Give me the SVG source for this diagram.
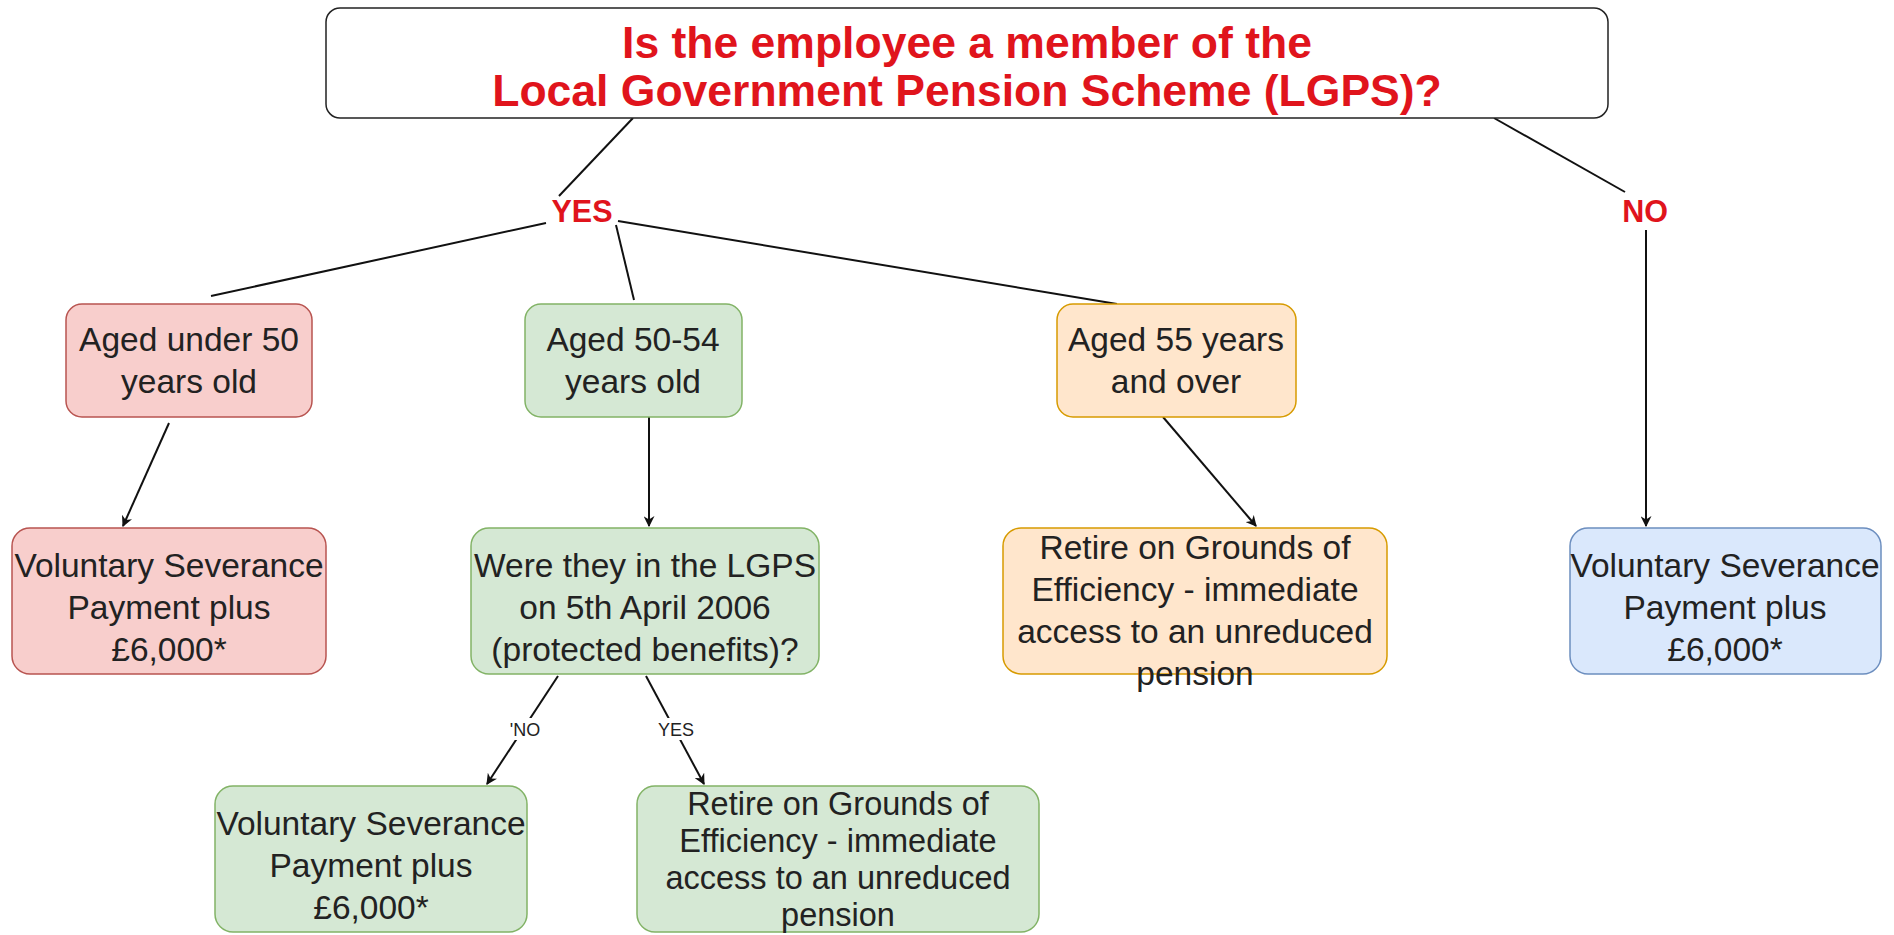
<svg xmlns="http://www.w3.org/2000/svg" width="1894" height="935" viewBox="0 0 1894 935">
<defs>
<style>
.t{font-family:"Liberation Sans",Arial,sans-serif;font-size:33.5px;fill:#222;text-anchor:middle}
.t2{font-family:"Liberation Sans",Arial,sans-serif;font-size:32.5px;fill:#222;text-anchor:middle}
.title{font-family:"Liberation Sans",Arial,sans-serif;font-size:44.5px;font-weight:bold;fill:#e0141c;text-anchor:middle}
.big{font-family:"Liberation Sans",Arial,sans-serif;font-size:30.5px;font-weight:bold;fill:#e0141c;text-anchor:middle}
.sm{font-family:"Liberation Sans",Arial,sans-serif;font-size:18px;fill:#222;text-anchor:middle}
.ln{stroke:#111;stroke-width:2;fill:none}
.pink{fill:#f8cecc;stroke:#b85450;stroke-width:1.5}
.green{fill:#d5e8d4;stroke:#82b366;stroke-width:1.5}
.orange{fill:#ffe6cc;stroke:#d79b00;stroke-width:1.5}
.blue{fill:#dae8fc;stroke:#6c8ebf;stroke-width:1.5}
</style>
<marker id="arr" viewBox="0 0 10 10" refX="9" refY="5" markerWidth="11" markerHeight="11" orient="auto" markerUnits="userSpaceOnUse">
<path d="M0,0 L10,5 L0,10 L3,5 z" fill="#111"/>
</marker>
</defs>
<rect width="1894" height="935" fill="#fff"/>
<g id="connectors">
<line class="ln" x1="633" y1="118" x2="559" y2="196"/>
<line class="ln" x1="1494" y1="118" x2="1625" y2="192"/>
<line class="ln" x1="546" y1="223" x2="211" y2="296"/>
<line class="ln" x1="616" y1="225" x2="634" y2="300"/>
<line class="ln" x1="618" y1="221" x2="1117" y2="304"/>
<line class="ln" x1="1646" y1="230" x2="1646" y2="526" marker-end="url(#arr)"/>
<line class="ln" x1="169" y1="423" x2="123" y2="526" marker-end="url(#arr)"/>
<line class="ln" x1="649" y1="417" x2="649" y2="526" marker-end="url(#arr)"/>
<line class="ln" x1="1163" y1="417" x2="1256" y2="526" marker-end="url(#arr)"/>
<line class="ln" x1="558" y1="676" x2="487" y2="784" marker-end="url(#arr)"/>
<line class="ln" x1="646" y1="676" x2="704" y2="784" marker-end="url(#arr)"/>
<rect x="507" y="718" width="38" height="22" fill="#fff"/>
<text class="sm" x="525" y="736">'NO</text>
<rect x="655" y="718" width="42" height="22" fill="#fff"/>
<text class="sm" x="676" y="736">YES</text>
</g>
<g id="n-top">
<rect x="326" y="8" width="1282" height="110" rx="14" fill="#fff" stroke="#222" stroke-width="1.5"/>
<text class="title" x="967" y="58">Is the employee a member of the</text>
<text class="title" x="967" y="106">Local Government Pension Scheme (LGPS)?</text>
</g>
<g id="n-yes"><text class="big" x="582" y="222">YES</text></g>
<g id="n-no"><text class="big" x="1645" y="222">NO</text></g>
<g id="n-under50">
<rect class="pink" x="66" y="304" width="246" height="113" rx="16"/>
<text class="t" x="189" y="351">Aged under 50</text>
<text class="t" x="189" y="393">years old</text>
</g>
<g id="n-5054">
<rect class="green" x="525" y="304" width="217" height="113" rx="16"/>
<text class="t" x="633" y="351">Aged 50-54</text>
<text class="t" x="633" y="393">years old</text>
</g>
<g id="n-55">
<rect class="orange" x="1057" y="304" width="239" height="113" rx="16"/>
<text class="t" x="1176" y="351">Aged 55 years</text>
<text class="t" x="1176" y="393">and over</text>
</g>
<g id="n-vsp-pink">
<rect class="pink" x="12" y="528" width="314" height="146" rx="18"/>
<text class="t" x="169" y="577">Voluntary Severance</text>
<text class="t" x="169" y="619">Payment plus</text>
<text class="t" x="169" y="661">£6,000*</text>
</g>
<g id="n-lgps2006">
<rect class="green" x="471" y="528" width="348" height="146" rx="18"/>
<text class="t" x="645" y="577">Were they in the LGPS</text>
<text class="t" x="645" y="619">on 5th April 2006</text>
<text class="t" x="645" y="661">(protected benefits)?</text>
</g>
<g id="n-retire-orange">
<rect class="orange" x="1003" y="528" width="384" height="146" rx="18"/>
<text class="t" x="1195" y="559">Retire on Grounds of</text>
<text class="t" x="1195" y="601">Efficiency - immediate</text>
<text class="t" x="1195" y="643">access to an unreduced</text>
<text class="t" x="1195" y="685">pension</text>
</g>
<g id="n-vsp-blue">
<rect class="blue" x="1570" y="528" width="311" height="146" rx="18"/>
<text class="t" x="1725" y="577">Voluntary Severance</text>
<text class="t" x="1725" y="619">Payment plus</text>
<text class="t" x="1725" y="661">£6,000*</text>
</g>
<g id="n-vsp-green">
<rect class="green" x="215" y="786" width="312" height="146" rx="18"/>
<text class="t" x="371" y="835">Voluntary Severance</text>
<text class="t" x="371" y="877">Payment plus</text>
<text class="t" x="371" y="919">£6,000*</text>
</g>
<g id="n-retire-green">
<rect class="green" x="637" y="786" width="402" height="146" rx="18"/>
<text class="t2" x="838" y="815">Retire on Grounds of</text>
<text class="t2" x="838" y="852">Efficiency - immediate</text>
<text class="t2" x="838" y="889">access to an unreduced</text>
<text class="t2" x="838" y="926">pension</text>
</g>
</svg>
